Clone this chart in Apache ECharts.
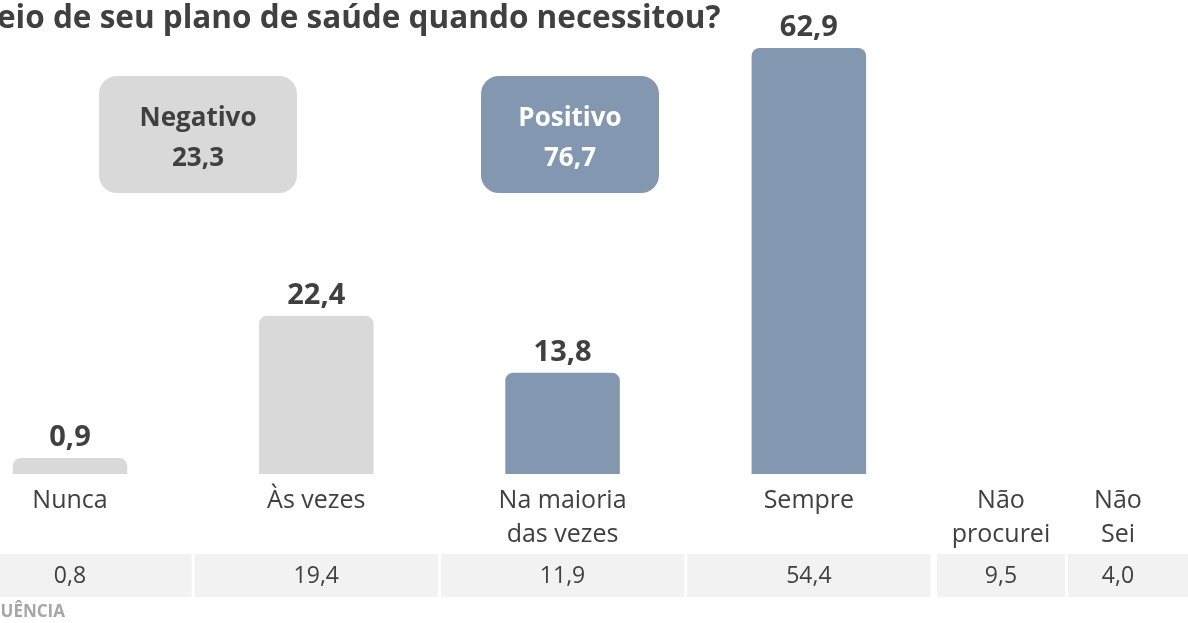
<!DOCTYPE html>
<html>
<head>
<meta charset="utf-8">
<script src="https://cdn.jsdelivr.net/npm/echarts@6/dist/echarts.min.js"></script>
<style>html,body{margin:0;padding:0;background:#fff;}#c{width:1188px;height:623px;}</style>
</head>
<body>
<div id="c"></div>
<script>
// ---- data ----
const titleText = 'eio de seu plano de saúde quando necessitou?';
const footerText = 'QUÊNCIA';
const barCategories = ['Nunca', 'Às vezes', 'Na maioria\ndas vezes', 'Sempre'];
const barValues = [0.9, 22.4, 13.8, 62.9];
const barGroups = ['neg', 'neg', 'pos', 'pos'];
const extraCategories = ['Não\nprocurei', 'Não\nSei'];
const tableValues = [0.8, 19.4, 11.9, 54.4, 9.5, 4.0];
const summaryLabels = ['Negativo', 'Positivo'];
const summaryValues = [23.3, 76.7];

// ---- style ----
const GRAY = '#d9d9d9', BLUE = '#8497b0', TXT = '#404040', CELL = '#f2f2f2';
const FONT = '"Open Sans", "Noto Sans", sans-serif';
const fmt = v => v.toFixed(1).replace('.', ',');
const colorOf = g => g === 'neg' ? GRAY : BLUE;

const chart = echarts.init(document.getElementById('c'), null, {renderer: 'canvas'});

const option = {
  animation: false,
  backgroundColor: '#fff',
  grid: {left: 0, right: 256, top: 34, bottom: 149, containLabel: false},
  xAxis: {type: 'value', min: -0.2842, max: 3.5, show: false, splitLine: {show: false}},
  yAxis: {type: 'value', min: -1.5, max: 65, show: false, splitLine: {show: false}},
  series: [{
    type: 'custom',
    data: barValues.map((v, i) => [i, v]),
    clip: false,
    renderItem(params, api) {
      const i = api.value(0), v = api.value(1);
      const top = api.coord([i, v]);
      const cs = params.coordSys;
      const bottom = cs.y + cs.height;
      const w = api.size([1, 0])[0] * 0.465;
      return {
        type: 'group',
        children: [
          {type: 'rect', shape: {x: top[0] - w / 2, y: top[1], width: w, height: bottom - top[1], r: [8, 8, 0, 0]},
           style: {fill: colorOf(barGroups[i])}},
          {type: 'text', style: {text: fmt(v), x: top[0], y: top[1] - 6, align: 'center', verticalAlign: 'bottom',
            font: 'bold 29px ' + FONT, fill: TXT}},
          {type: 'text', style: {text: barCategories[i], x: top[0], y: bottom + 10, align: 'center', verticalAlign: 'top',
            font: '25px ' + FONT, lineHeight: 34, fill: TXT}}
        ]
      };
    }
  }]
};
chart.setOption(option);

// ---- annotations / table ----
const catW = chart.convertToPixel({xAxisIndex: 0}, 1) - chart.convertToPixel({xAxisIndex: 0}, 0);
const centers = barCategories.map((c, i) => chart.convertToPixel({xAxisIndex: 0}, i));
const extraCells = [{l: 937, r: 1065, cx: 1001}, {l: 1068, r: 1190, cx: 1118}];
const graphics = [];

graphics.push({type: 'text', left: -3, top: 3, style: {text: titleText, font: 'bold 31.5px ' + FONT, fill: TXT}});
graphics.push({type: 'text', left: -13, top: 604, style: {text: footerText, font: 'bold 17px ' + FONT, fill: '#a6a6a6'}});

extraCategories.forEach((t, k) => {
  graphics.push({type: 'text', x: extraCells[k].cx, y: 484, style: {text: t, align: 'center', verticalAlign: 'top',
    font: '25px ' + FONT, lineHeight: 34, fill: TXT}});
});

const cells = centers.map(cx => ({l: cx - catW / 2 + 1.5, r: cx + catW / 2 - 1.5, cx})).concat(extraCells);
cells.forEach((c, k) => {
  graphics.push({type: 'rect', shape: {x: c.l, y: 554, width: c.r - c.l, height: 43}, style: {fill: CELL}});
  graphics.push({type: 'text', x: c.cx, y: 576, style: {text: fmt(tableValues[k]), align: 'center', verticalAlign: 'middle',
    font: '23px ' + FONT, fill: TXT}});
});

const boxes = [{l: 99, r: 297, fill: GRAY, color: TXT}, {l: 481, r: 659, fill: BLUE, color: '#fff'}];
boxes.forEach((b, k) => {
  graphics.push({type: 'rect', shape: {x: b.l, y: 76, width: b.r - b.l, height: 117, r: 18}, style: {fill: b.fill}});
  graphics.push({type: 'text', x: (b.l + b.r) / 2, y: 139, style: {text: summaryLabels[k] + '\n' + fmt(summaryValues[k]),
    align: 'center', verticalAlign: 'middle', font: 'bold 26px ' + FONT, lineHeight: 40, fill: b.color}});
});

chart.setOption({graphic: graphics});
</script>
</body>
</html>
